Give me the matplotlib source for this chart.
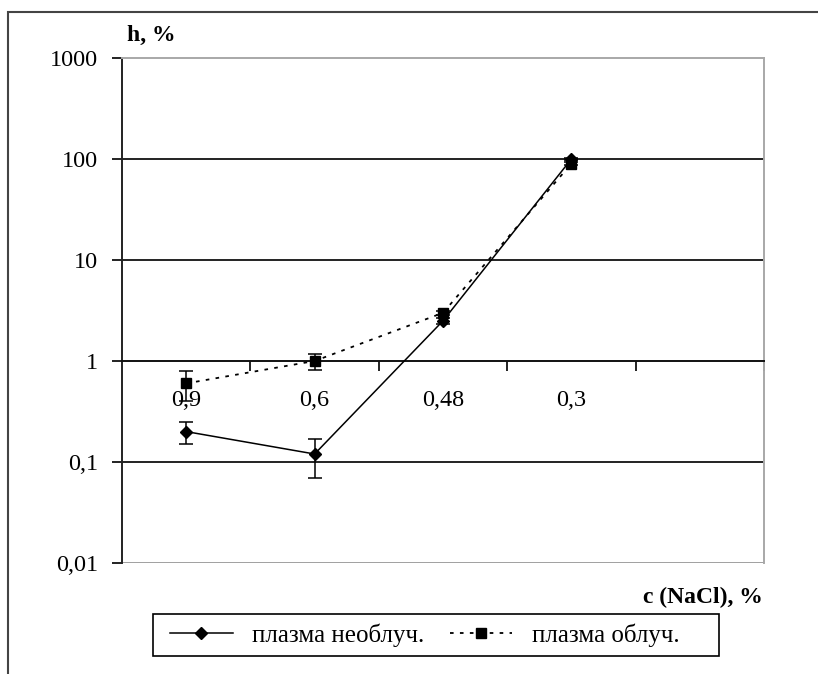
import matplotlib.pyplot as plt
from matplotlib.patches import Rectangle

# Данные
kategorii = ['0,9', '0,6', '0,48', '0,3']
neobl = [0.2, 0.12, 2.5, 100]
neobl_err = [0.05, 0.05, 0.15, 3]
obl = [0.6, 1.0, 3.0, 90]
obl_err = [0.2, 0.18, 0.15, 3]
y_ticks = [0.01, 0.1, 1, 10, 100, 1000]
y_labels = ['0,01', '0,1', '1', '10', '100', '1000']

plt.rcParams['font.family'] = ['Liberation Serif', 'DejaVu Serif']
plt.rcParams['font.size'] = 17.5

W, H = 818, 674
fig = plt.figure(figsize=(W / 100, H / 100), dpi=100)
ax = fig.add_axes([122 / W, 1 - 563 / H, (764 - 122) / W, (563 - 58) / H])

x = list(range(len(kategorii)))

# Линии
ax.plot(x, neobl, color='black', lw=1.1, marker='D', ms=6, label='плазма необлуч.', zorder=4)
ax.plot(x, obl, color='black', lw=1.3, ls=(0, (2, 3.5)), marker='s', ms=7,
        label='плазма облуч.', zorder=4)
ax.errorbar(x, neobl, yerr=neobl_err, fmt='none', ecolor='black', elinewidth=1.1,
            capsize=5, capthick=1.1, zorder=3)
ax.errorbar(x, obl, yerr=obl_err, fmt='none', ecolor='black', elinewidth=1.1,
            capsize=5, capthick=1.1, zorder=3)

ax.set_yscale('log')
ax.set_ylim(0.01, 1000)
ax.set_xlim(-0.5, 4.5)

# Сетка
for v in [0.1, 10, 100]:
    ax.axhline(v, color='#222222', lw=1.4, zorder=1)
ax.axhline(0.01, color='#a0a0a0', lw=1.4, zorder=1)

ax.spines['bottom'].set_position(('data', 1))
ax.spines['bottom'].set_color('#111111')
ax.spines['bottom'].set_linewidth(1.4)
ax.spines['left'].set_color('#222222')
ax.spines['left'].set_linewidth(1.4)
ax.spines['top'].set_color('#a8a8a8')
ax.spines['top'].set_linewidth(1.4)
ax.spines['right'].set_color('#a8a8a8')
ax.spines['right'].set_linewidth(1.4)

ax.set_yticks(y_ticks)
ax.set_yticklabels(y_labels)
ax.yaxis.set_minor_locator(plt.NullLocator())
ax.tick_params(axis='y', length=7, width=1.4, pad=10, color='#222222')

ax.set_xticks([0.5, 1.5, 2.5, 3.5, 4.5])
ax.set_xticklabels([])
ax.set_xticks(x, minor=True)
ax.set_xticklabels(kategorii, minor=True)
ax.tick_params(axis='x', which='major', length=7, width=1.4, direction='out', color='#222222')
ax.tick_params(axis='x', which='minor', length=0, pad=21)

# Подписи осей
fig.text(127 / W, 1 - 35 / H, 'h, %', fontweight='bold', fontsize=17, va='center', ha='left')
fig.text(763 / W, 1 - 597 / H, 'c (NaCl), %', fontweight='bold', fontsize=17, va='center', ha='right')

# Рамка диаграммы
fig.patches.append(Rectangle((8 / W, -0.1), 1.2, 1 - 12 / H + 0.1, transform=fig.transFigure,
                             fill=False, edgecolor='#444444', lw=1.5))

# Легенда с рамкой
fig.patches.append(Rectangle((153 / W, 1 - 656 / H), (719 - 153) / W, (656 - 614) / H,
                             transform=fig.transFigure, fill=False, edgecolor='black', lw=1.2))
leg = fig.legend(loc='center left', bbox_to_anchor=(150 / W, 1 - 635 / H), ncol=2,
                 frameon=False, handlelength=2.5, columnspacing=1.0,
                 handletextpad=0.8, borderpad=0.3, fontsize=18)

plt.savefig('out.png', dpi=100)
